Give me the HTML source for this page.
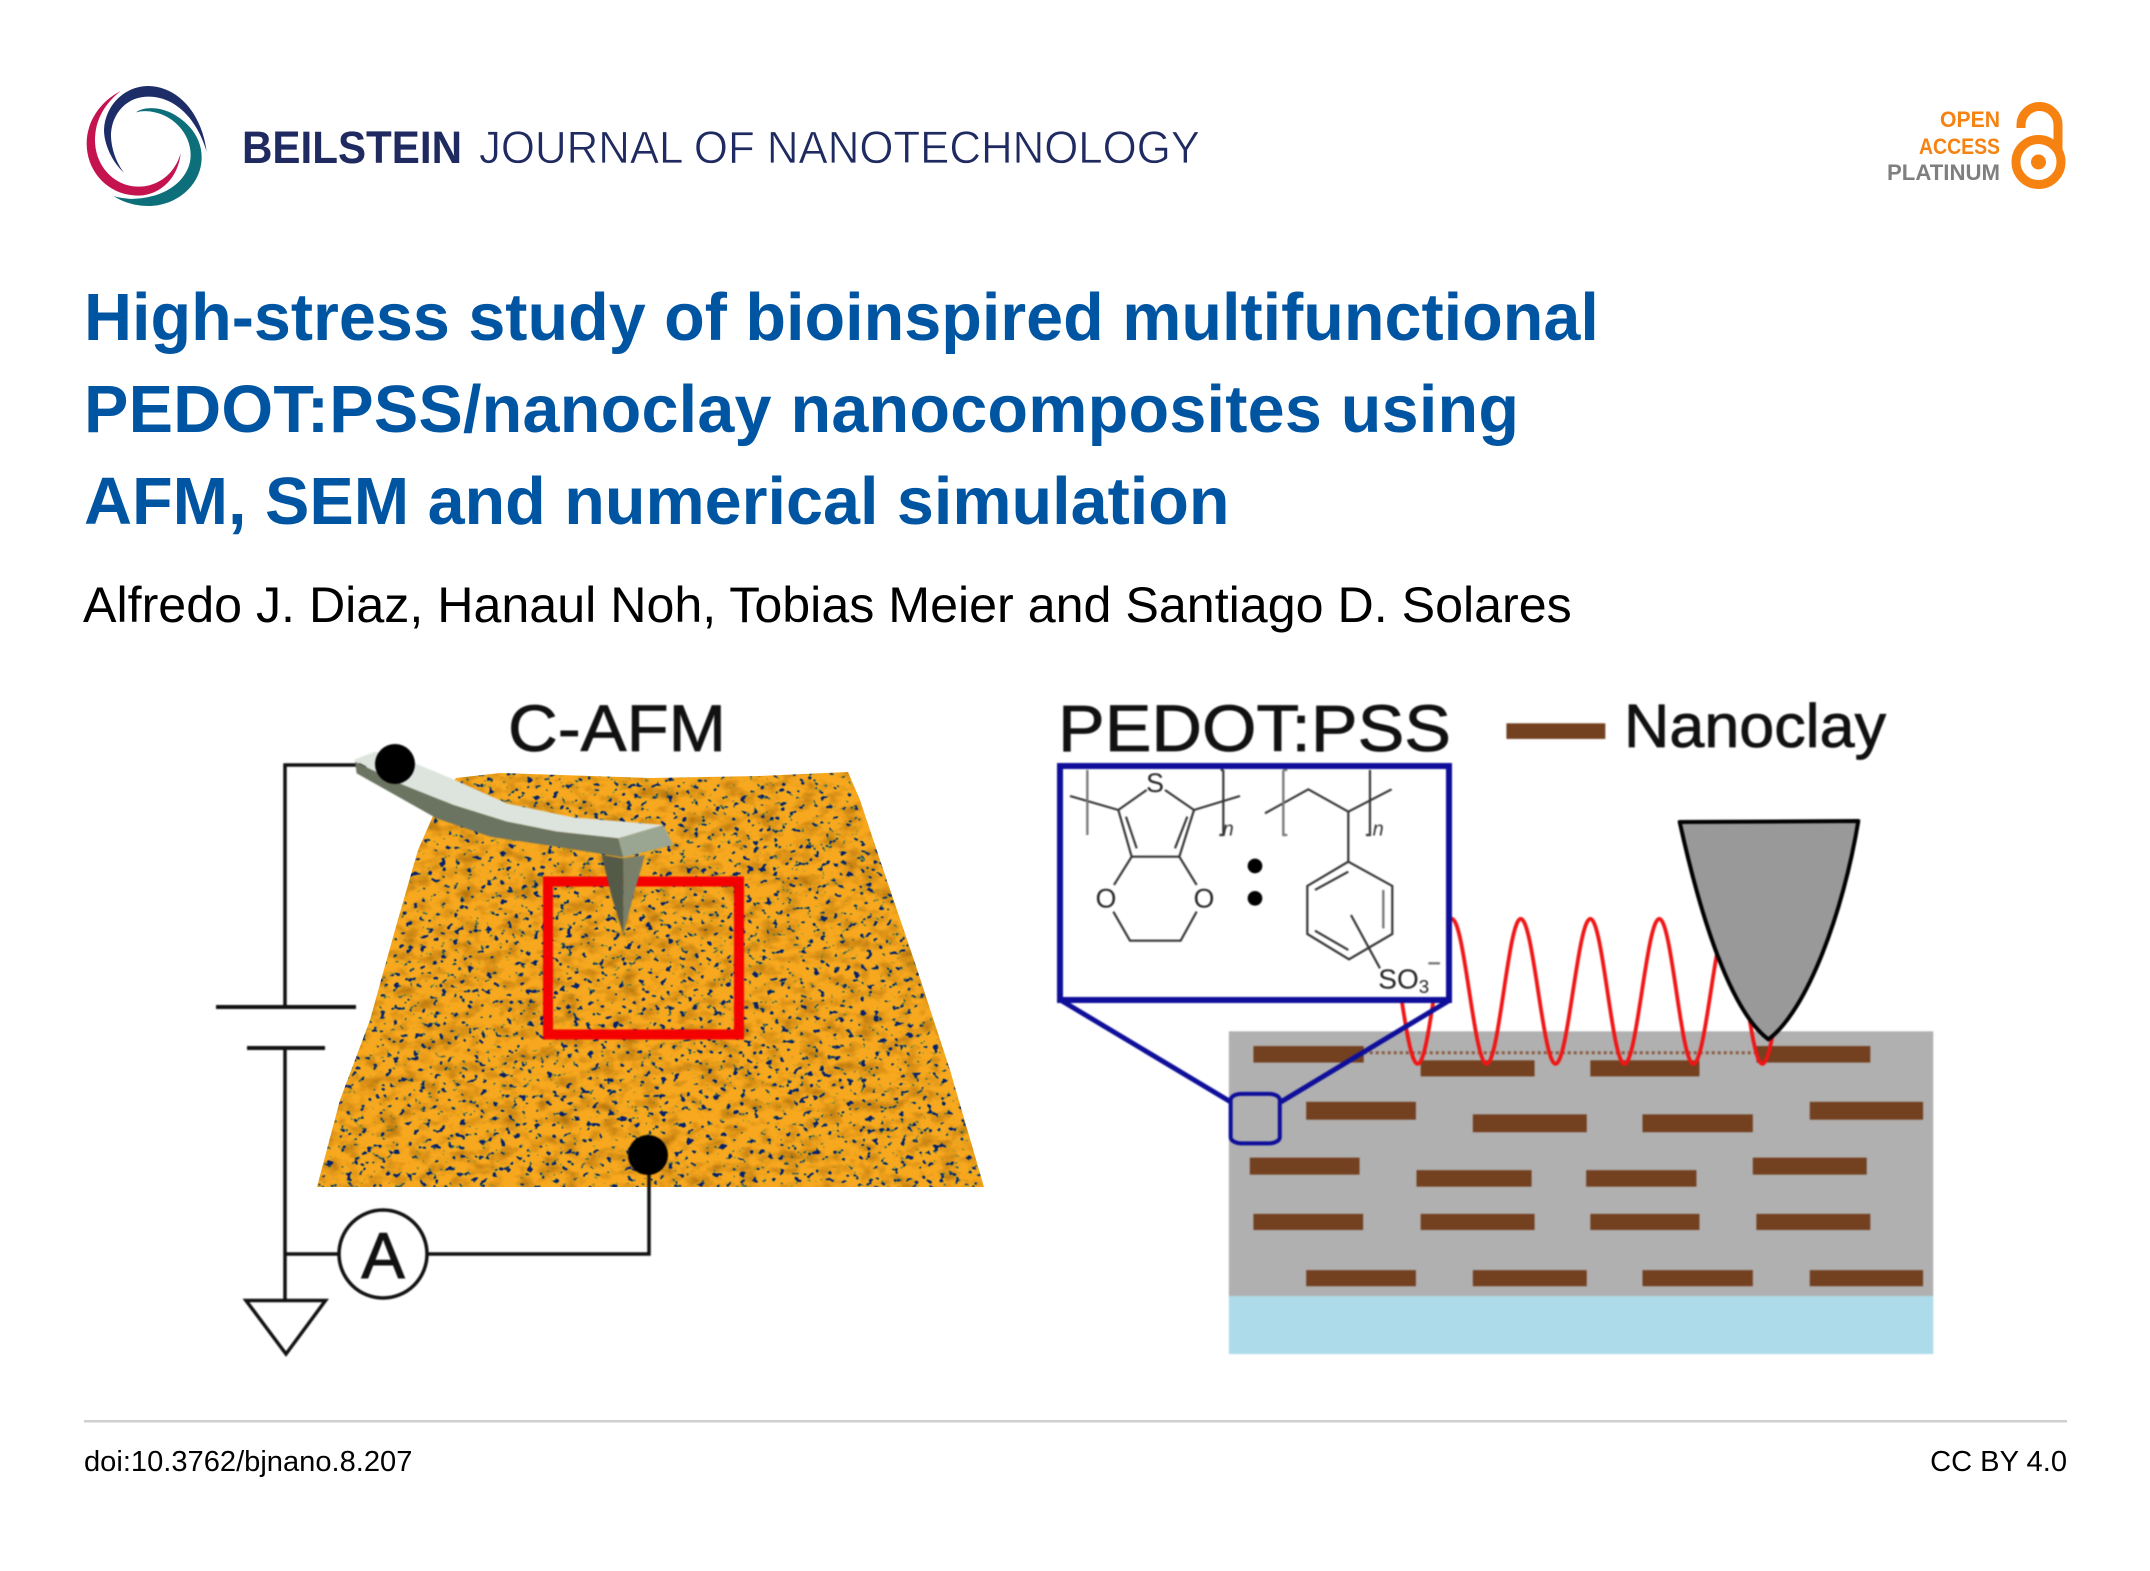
<!DOCTYPE html>
<html><head><meta charset="utf-8"><style>html,body{margin:0;padding:0;background:#fff}svg{display:block}text{font-family:"Liberation Sans",sans-serif}</style></head>
<body>
<svg xmlns="http://www.w3.org/2000/svg" width="2150" height="1571" viewBox="0 0 2150 1571">
<defs>
<filter id="tex" x="300" y="760" width="700" height="440" filterUnits="userSpaceOnUse" color-interpolation-filters="sRGB">
<feTurbulence type="fractalNoise" baseFrequency="0.05 0.08" numOctaves="3" seed="4" result="low"/>
<feColorMatrix in="low" type="matrix" values="0 0 0 0 0.62  0 0 0 0 0.38  0 0 0 0 0.02  1.6 0 0 0 -0.72" result="shade"/>
<feTurbulence type="fractalNoise" baseFrequency="0.15 0.18" numOctaves="2" seed="7" result="n"/>
<feColorMatrix in="n" type="matrix" values="0 0 0 0 0.05  0 0 0 0 0.11  0 0 0 0 0.42  14 0 0 0 -8.9" result="blue"/>
<feColorMatrix in="n" type="matrix" values="0 0 0 0 0.30  0 0 0 0 0.72  0 0 0 0 0.25  10 0 0 0 -6.1" result="green"/>
<feFlood flood-color="#f8a81e" result="base"/>
<feMerge result="m"><feMergeNode in="base"/><feMergeNode in="shade"/><feMergeNode in="green"/><feMergeNode in="blue"/></feMerge>
<feGaussianBlur in="m" stdDeviation="0.6"/>
</filter>
<filter id="soft" x="-5%" y="-5%" width="110%" height="110%" color-interpolation-filters="sRGB"><feGaussianBlur stdDeviation="0.8"/></filter>
<clipPath id="surf"><polygon points="456,778 500,773 650,778 760,776 848,772 860,800 880,860 916,966 950,1070 984,1187 317,1187 340,1100 370,1020 395,930 418,850 440,800"/></clipPath>
</defs>

<!-- logo -->
<g transform="translate(80,80) scale(.3333)">
<path fill="#1d2d68" d="M132,278 C95,245 72,190 72,150 C75,75 135,18 205,18 C295,20 365,100 380,215 C350,115 285,50 205,50 C140,50 97,100 93,160 C92,205 110,250 132,278Z"/>
<path fill="#c4134f" d="M122,33 C60,65 20,125 20,190 C20,280 90,347 175,347 C245,345 295,290 302,220 C285,280 235,320 175,320 C105,320 45,260 45,180 C45,120 75,70 122,33Z"/>
<path fill="#0c6f7a" d="M168,97 C190,80 240,78 285,105 C335,135 365,180 365,232 C365,315 290,378 205,378 C165,378 130,367 100,348 C135,358 170,360 210,350 C280,335 332,285 332,225 C332,165 285,110 225,97 C205,92 185,92 168,97Z"/>
</g>
<text x="242" y="163" font-size="45" font-weight="700" fill="#1f2a60" textLength="220" lengthAdjust="spacingAndGlyphs">BEILSTEIN</text>
<text x="479" y="163" font-size="45" fill="#1f2a60" stroke="#fff" stroke-width=".7" textLength="721" lengthAdjust="spacingAndGlyphs">JOURNAL OF NANOTECHNOLOGY</text>

<!-- open access -->
<g font-size="22" font-weight="700">
<text x="1940" y="127" fill="#f68212" textLength="60" lengthAdjust="spacingAndGlyphs">OPEN</text>
<text x="1919" y="154" fill="#f68212" textLength="81" lengthAdjust="spacingAndGlyphs">ACCESS</text>
<text x="1887" y="180" fill="#7f7f7f" textLength="113" lengthAdjust="spacingAndGlyphs">PLATINUM</text>
</g>
<path d="M2021,128 V125 A18.500,18.500 0 0 1 2058,125 V150" fill="none" stroke="#f68212" stroke-width="9"/>
<circle cx="2038.500" cy="162" r="22.500" fill="none" stroke="#f68212" stroke-width="9"/>
<circle cx="2038.500" cy="162" r="7.500" fill="#f68212"/>

<!-- title -->
<g font-size="66.500" font-weight="700" fill="#0055a2">
<text x="84" y="340">High-stress study of bioinspired multifunctional</text>
<text x="84" y="432" textLength="1435">PEDOT:PSS/nanoclay nanocomposites using</text>
<text x="84" y="524">AFM, SEM and numerical simulation</text>
</g>
<text x="83" y="622" font-size="50.200" fill="#000">Alfredo J. Diaz, Hanaul Noh, Tobias Meier and Santiago D. Solares</text>

<!-- AFM surface -->
<g clip-path="url(#surf)"><rect x="300" y="760" width="700" height="440" filter="url(#tex)"/></g>
<g filter="url(#soft)">
<text x="508" y="751" font-size="66" fill="#111" stroke="#111" stroke-width=".8" textLength="218" lengthAdjust="spacingAndGlyphs">C-AFM</text>
<rect x="548" y="881.500" width="191" height="153" fill="none" stroke="#f40000" stroke-width="10"/>

<!-- circuit -->
<g fill="none" stroke="#111" stroke-width="3.500">
<path d="M380,765 H285 V1007"/>
<path d="M216,1007 H356" stroke-width="4"/>
<path d="M247,1048 H325" stroke-width="4"/>
<path d="M285,1048 V1300"/>
<path d="M285,1254 H339"/>
<path d="M428,1254 H649 V1155"/>
<path d="M246,1300.500 H325.500 L286,1354 Z"/>
<circle cx="383" cy="1254" r="44"/>
</g>
<text x="383" y="1278" font-size="65" text-anchor="middle" fill="#111" stroke="#111" stroke-width="1">A</text>
<circle cx="648" cy="1155" r="20" fill="#000"/>

<!-- cantilever -->
<g transform="translate(340,730) scale(.3333)">
<polygon fill="#dde4de" points="40,90 105,65 225,100 345,150 500,220 700,262 970,285 835,325 650,305 500,275 340,225 190,165 50,95"/>
<polygon fill="#6b7361" points="45,95 190,165 340,225 500,275 650,305 835,325 850,382 650,350 450,320 290,265 50,130"/>
<polygon fill="#9aa692" points="835,325 970,285 1000,345 850,382"/>
<polygon fill="#545a48" points="785,375 850,385 850,612 815,500"/>
<polygon fill="#7a7f6a" points="850,385 915,375 885,480 850,612"/>
</g>
<circle cx="395" cy="764" r="20" fill="#000"/>
</g>

<!-- right figure -->
<g filter="url(#soft)">
<g transform="translate(1040,680) scale(.5995,.4464)">
<rect x="315" y="787" width="1175" height="593" fill="#b0b0b0"/>
<rect x="315" y="1380" width="1175" height="130" fill="#aedbe9"/>
<path d="M540,835 H1195" stroke="#8a5a40" stroke-width="3" stroke-dasharray="3 3" fill="none" vector-effect="non-scaling-stroke"/>
<g fill="#734020">
<rect x="778" y="97" width="165" height="35"/>
<rect x="356" y="820" width="184" height="37"/><rect x="1195" y="820" width="190" height="37"/>
<rect x="635" y="852" width="190" height="36"/><rect x="918" y="852" width="182" height="36"/>
<rect x="444" y="945" width="183" height="40"/><rect x="1284" y="945" width="189" height="40"/>
<rect x="722" y="973" width="190" height="40"/><rect x="1005" y="973" width="184" height="40"/>
<rect x="350" y="1070" width="183" height="38"/><rect x="1189" y="1070" width="190" height="38"/>
<rect x="628" y="1098" width="192" height="37"/><rect x="911" y="1098" width="184" height="37"/>
<rect x="356" y="1196" width="183" height="36"/><rect x="635" y="1196" width="190" height="36"/><rect x="918" y="1196" width="182" height="36"/><rect x="1195" y="1196" width="190" height="36"/>
<rect x="444" y="1322" width="183" height="36"/><rect x="722" y="1322" width="190" height="36"/><rect x="1005" y="1322" width="184" height="36"/><rect x="1284" y="1322" width="189" height="36"/>
</g>
<path fill="none" stroke="#f01515" stroke-width="3.800" vector-effect="non-scaling-stroke" d="M572,535 C593,535 609,860 630,860 C651,860 666,535 687,535 C708,535 724,860 745,860 C766,860 781,535 802,535 C823,535 839,860 860,860 C881,860 897,535 918,535 C939,535 954,860 975,860 C996,860 1012,535 1033,535 C1054,535 1069,860 1090,860 C1111,860 1127,535 1148,535 C1169,535 1184,860 1205,860 C1226,860 1242,535 1263,535"/>
<path d="M1067,318 L1365,316 C1340,520 1280,740 1215,805 C1150,740 1100,520 1067,318Z" fill="#999" stroke="#000" stroke-width="4" stroke-linejoin="round" vector-effect="non-scaling-stroke"/>
<g fill="none" stroke="#0e0e9a">
<path d="M33,716 L318,945 M685,716 L402,945" stroke-width="5" vector-effect="non-scaling-stroke"/>
<rect x="318" y="927" width="82" height="111" rx="18" ry="14" stroke-width="4" vector-effect="non-scaling-stroke"/>
</g>
</g>
<rect x="1060" y="766" width="389" height="234" fill="#fff" stroke="#0e0e9a" stroke-width="6"/>
<text x="1058" y="751" font-size="66" fill="#111" stroke="#111" stroke-width=".8" textLength="393" lengthAdjust="spacingAndGlyphs">PEDOT:PSS</text>
<text x="1624" y="747" font-size="61" fill="#111" stroke="#111" stroke-width=".8" textLength="262" lengthAdjust="spacingAndGlyphs">Nanoclay</text>

<!-- chemistry -->
<g transform="translate(1050,760) scale(.3333)">
<g fill="none" stroke="#333" stroke-width="6.500">
<path d="M60,108 L205,150 L290,90 M345,90 L432,150 L570,108"/>
<path d="M205,150 L245,290 M228,170 L260,265 M432,150 L388,290 M412,170 L375,265 M245,290 H388"/>
<path d="M245,290 L192,375 M190,455 L240,542 H392 L440,455 M388,290 L440,375"/>
<path d="M520,30 V225 H508 M512,30 H520"/>
<path d="M645,160 L775,88 L895,155 L1025,88 M895,155 V305"/>
<path d="M895,305 L1027,378 V522 L897,598 L772,522 V378 Z"/>
<path d="M795,390 L895,335 M795,512 L895,570 M903,465 L990,625"/>
<path d="M960,30 V225 H948"/>
</g>
<g fill="none" stroke="#777" stroke-width="7">
<path d="M112,30 V225 M700,30 V225 H712 M700,30 H712 M1000,390 V505 M1135,610 H1170"/>
</g>
<text x="315" y="96" font-size="80" text-anchor="middle" fill="#222">S</text>
<text x="168" y="443" font-size="80" text-anchor="middle" fill="#222">O</text>
<text x="462" y="443" font-size="80" text-anchor="middle" fill="#222">O</text>
<text x="518" y="226" font-size="60" font-style="italic" fill="#333">n</text>
<text x="968" y="226" font-size="60" font-style="italic" fill="#333">n</text>
<text x="985" y="685" font-size="84" fill="#222">SO<tspan font-size="56" dy="14">3</tspan></text>
<circle cx="615" cy="318" r="22" fill="#000"/>
<circle cx="615" cy="415" r="22" fill="#000"/>
</g>
</g>

<!-- footer -->
<rect x="84" y="1420" width="1983" height="2.500" fill="#cfcfcf"/>
<text x="84" y="1471" font-size="29.100" fill="#000">doi:10.3762/bjnano.8.207</text>
<text x="2067" y="1471" font-size="29.100" fill="#000" text-anchor="end">CC BY 4.0</text>
</svg>
</body></html>
